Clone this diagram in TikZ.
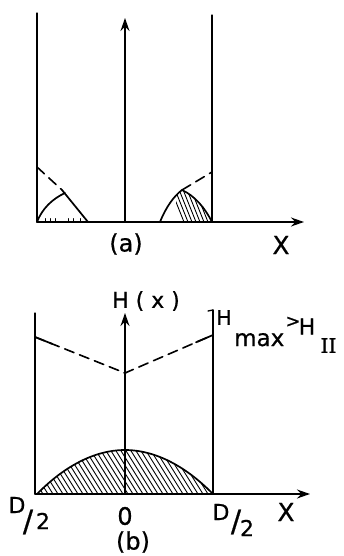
\documentclass[tikz,border=0pt]{standalone}
\usepackage{fontspec}
\setmainfont[FakeBold=0.7]{DejaVu Sans}
\newfontfamily\romfont[FakeBold=0.7]{DejaVu Serif}
\usetikzlibrary{arrows.meta}
\begin{document}
\begin{tikzpicture}[x=1pt,y=-1pt, line cap=round, line join=round,
  ax/.style={line width=1.5pt,-{Stealth[length=13pt,width=9pt]}},
  wall/.style={line width=1.3pt},
  curve/.style={line width=1.7pt},
  dsh/.style={line width=1.6pt, dash pattern=on 10pt off 6pt},
  hat/.style={line width=0.9pt},
  tick/.style={line width=0.8pt},
  txt/.style={inner sep=0pt},
  lbl/.style={txt, font=\fontsize{24}{24}\selectfont},
  big/.style={txt, font=\fontsize{25}{25}\selectfont}]
\path[use as bounding box] (0,0) rectangle (343,556);

% ---------- (a) ----------
\coordinate (aO) at (37,222);
\coordinate (aX) at (304,222);
\coordinate (aC) at (125,222);
\coordinate (aT) at (125,18);
\coordinate (aLt) at (37,13);
\coordinate (aRt) at (212,15);
\coordinate (aRb) at (212,222);
\draw[wall] (aLt) -- (aO);
\draw[wall] (aRt) -- (aRb);
\draw[ax] (aO) -- (aX);
\draw[ax] (aC) -- (aT);

% left bump
\coordinate (lbP) at (65,193);
\coordinate (lbE) at (88,222);
\coordinate (lbW) at (37,167);
\draw[curve] (aO) .. controls (42,209) and (52,199) .. (lbP);
\draw[curve] (62,190) -- (lbE);
\draw[dsh] (lbW) -- (62,190);
\foreach \x in {45,50,55,68,73,80}
  \draw[tick] (\x,222) -- (\x,218.5);

% right bump
\coordinate (rbW) at (160,222);
\coordinate (rbP) at (182,190);
\coordinate (rbD) at (212,172);
\draw[curve] (rbW) .. controls (166,207) and (174,196) .. (rbP);
\draw[curve] (rbP) .. controls (195,196) and (205,208) .. (aRb);
\draw[dsh] (rbP) -- (rbD);
\begin{scope}
  \clip (rbW) .. controls (166,207) and (174,196) .. (rbP)
        .. controls (195,196) and (205,208) .. (aRb) -- cycle;
  \clip (176,150) rectangle (220,230);
  \foreach \x in {184,188,...,216}
    \draw[hat] (\x-16,182) -- (\x,222);
\end{scope}

\node[lbl] (la) at (126,244) {(a)};
\node[big] (lX1) at (281,245) {X};

% ---------- (b) ----------
\coordinate (bO) at (35,494);
\coordinate (bX) at (310,494);
\coordinate (bC) at (125,494);
\coordinate (bT) at (125,313);
\coordinate (bLt) at (35,313);
\coordinate (bRt) at (213,310);
\coordinate (bRb) at (213,494);
\draw[wall] (bLt) -- (bO);
\draw[wall] (bRt) -- (bRb);
\draw[wall] (208,311) -- (bRt);
\draw[ax] (bO) -- (bX);
\draw[ax] (bC) -- (bT);

% dashed H_max curve
\coordinate (dL) at (35,337);
\coordinate (dM) at (125,373);
\coordinate (dR) at (213,335);
\draw[dsh] (dL) -- (dM) -- (dR);
\draw[curve] (dL) -- (52,343.8);
\draw[curve] (196,342.3) -- (dR);
\fill (dM) circle (1.6pt);

% hatched dome
\coordinate (hL) at (37,494);
\coordinate (hP) at (125,450);
\coordinate (hR) at (213,494);
\begin{scope}
  \clip (hL) parabola bend (hP) (hR) -- cycle;
  \foreach \x in {38,43,...,250}
    \draw[hat] (\x-30,446) -- (\x,494);
\end{scope}
\draw[curve] (hL) parabola bend (hP) (hR);

\node[txt, font=\fontsize{22}{22}\selectfont] (lH) at (146,301) {H ( x )};
\node[txt, font=\fontsize{20}{20}\selectfont] (hm1) at (224,317.5) {H};
\node[txt, anchor=base west, font=\fontsize{23}{23}\selectfont] (hm2) at (234,346) {max};
\node[txt, font=\fontsize{18}{18}\selectfont] (hm3) at (293,322) {>};
\node[txt, font=\fontsize{22}{22}\selectfont] (hm4) at (307,326.5) {H};
\node[txt, font=\fontsize{20}{20}\selectfont\romfont] (hm5) at (328.5,345.5) {II};

% D/2 labels
\node[txt, font=\fontsize{22}{22}\selectfont] (dl1) at (17,505) {D};
\node[txt, font=\fontsize{30}{30}\selectfont] (dl2) at (28,522) {/};
\node[txt, font=\fontsize{22}{22}\selectfont] (dl3) at (43,521) {2};
\node[txt, font=\fontsize{22}{22}\selectfont] (dr1) at (221,512) {D};
\node[txt, font=\fontsize{30}{30}\selectfont] (dr2) at (236,522) {/};
\node[txt, font=\fontsize{22}{22}\selectfont] (dr3) at (247,528) {2};
\node[txt, font=\fontsize{24}{24}\selectfont] (l0) at (125,516) {0};
\node[big] (lX2) at (286,512) {X};
\node[lbl] (lb) at (133,542) {(b)};
\end{tikzpicture}
\end{document}
